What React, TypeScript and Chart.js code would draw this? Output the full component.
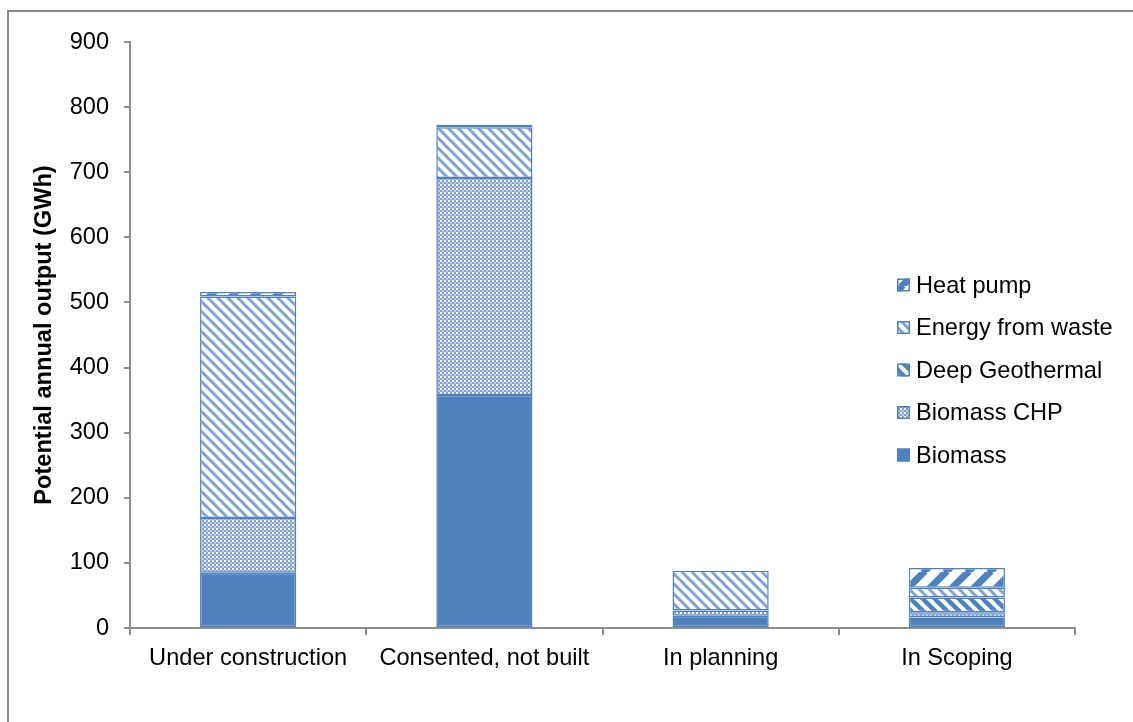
import { useEffect, useRef } from "react";
import { Chart, registerables } from "chart.js";

Chart.register(...registerables);

// Project pipeline by stage, potential annual output in GWh
const categories = ["Under construction", "Consented, not built", "In planning", "In Scoping"];
const seriesNames = ["Biomass", "Biomass CHP", "Deep Geothermal", "Energy from waste", "Heat pump"];
const biomass = [85, 358, 19, 16];
const biomassChp = [84, 333, 8, 8];
const deepGeothermal = [null, null, null, 23];
const energyFromWaste = [340, 78, 61, 15];
const heatPump = [7, 4, null, 30];
const yMin = 0;
const yMax = 900;
const yStep = 100;
const yTitle = "Potential annual output (GWh)";

const BLUE = "#4F81BD";
const AXIS = "#8d8d8d";
const FONT = "'Liberation Sans', Arial, sans-serif";
const FONT_SIZE = 23.6;

function tile(size: number, draw: (c: CanvasRenderingContext2D, s: number) => void): CanvasPattern | string {
  const cv = document.createElement("canvas");
  cv.width = size;
  cv.height = size;
  const c = cv.getContext("2d");
  if (!c) return BLUE;
  c.fillStyle = "#ffffff";
  c.fillRect(0, 0, size, size);
  draw(c, size);
  const p = c.createPattern(cv, "repeat");
  return p || BLUE;
}

// "\" stripes
function downDiagonal(size: number, width: number, color: string) {
  return tile(size, (c, s) => {
    c.strokeStyle = color;
    c.lineWidth = width;
    c.beginPath();
    for (let k = -1; k <= 1; k++) {
      c.moveTo(k * s - 1, -1);
      c.lineTo(k * s + s + 1, s + 1);
    }
    c.stroke();
  });
}

// "/" stripes
function upDiagonal(size: number, width: number, color: string) {
  return tile(size, (c, s) => {
    c.strokeStyle = color;
    c.lineWidth = width;
    c.beginPath();
    for (let k = -1; k <= 1; k++) {
      c.moveTo(k * s - 1, s + 1);
      c.lineTo(k * s + s + 1, -1);
    }
    c.stroke();
  });
}

function dotted() {
  return tile(4, (c) => {
    c.fillStyle = "#7f9fd0";
    c.fillRect(0, 0, 4, 4);
    c.fillStyle = "#ffffff";
    c.fillRect(0, 0, 2, 2);
    c.fillStyle = "#bccde7";
    c.fillRect(2, 2, 2, 2);
  });
}

const overlayLegend = {
  id: "overlayLegend",
  afterDraw(chart: any) {
    const ctx: CanvasRenderingContext2D = chart.ctx;
    const datasets = chart.data.datasets.slice().reverse();
    const boxX = 897;
    const box = 13;
    const textX = 916;
    const firstY = 285;
    const rowGap = 42.5;
    ctx.save();
    ctx.font = `${FONT_SIZE}px ${FONT}`;
    ctx.textBaseline = "middle";
    ctx.textAlign = "left";
    datasets.forEach((ds: any, i: number) => {
      const cy = firstY + i * rowGap;
      ctx.fillStyle = ds.backgroundColor;
      ctx.fillRect(boxX, cy - box / 2, box, box);
      ctx.strokeStyle = BLUE;
      ctx.lineWidth = 1.5;
      ctx.strokeRect(boxX + 0.75, cy - box / 2 + 0.75, box - 1.5, box - 1.5);
      ctx.fillStyle = "#000000";
      ctx.fillText(ds.label, textX, cy + 1);
    });
    ctx.restore();
  },
};

const frame = {
  id: "frame",
  beforeDraw(chart: any) {
    const ctx: CanvasRenderingContext2D = chart.ctx;
    ctx.save();
    ctx.fillStyle = "#ffffff";
    ctx.fillRect(0, 0, chart.width, chart.height);
    ctx.fillStyle = "#8a8a8a";
    ctx.fillRect(7, 10, 2, chart.height - 10);
    ctx.fillRect(7, 10, chart.width - 7, 2);
    ctx.restore();
  },
};

export default function App() {
  const ref = useRef<HTMLCanvasElement | null>(null);

  useEffect(() => {
    if (!ref.current) return;
    const fills = [
      BLUE,
      dotted(),
      downDiagonal(12, 4.5, BLUE),
      downDiagonal(10, 3, "#7fa2d0"),
      upDiagonal(22, 7, BLUE),
    ];
    const values = [biomass, biomassChp, deepGeothermal, energyFromWaste, heatPump];
    const chart = new Chart(ref.current, {
      type: "bar",
      data: {
        labels: categories,
        datasets: seriesNames.map((name, i) => ({
          label: name,
          data: values[i] as any,
          backgroundColor: fills[i] as any,
          borderColor: BLUE,
          borderWidth: 1.5,
          borderSkipped: false,
          barPercentage: 0.407,
          categoryPercentage: 1,
        })),
      },
      options: {
        responsive: false,
        animation: false,
        events: [],
        layout: { padding: { left: 8, top: 42, right: 58, bottom: 0 } },
        plugins: {
          legend: { display: false },
          title: { display: false },
          tooltip: { enabled: false },
        },
        scales: {
          x: {
            stacked: true,
            afterFit: (s: any) => {
              s.height = 94;
            },
            grid: {
              display: true,
              drawOnChartArea: false,
              drawTicks: true,
              tickLength: 7,
              color: AXIS,
              lineWidth: 2,
            },
            border: { display: true, color: AXIS, width: 2 },
            ticks: {
              color: "#000000",
              font: { family: FONT, size: FONT_SIZE },
              padding: 9,
              maxRotation: 0,
            },
          },
          y: {
            stacked: true,
            min: yMin,
            max: yMax,
            afterFit: (s: any) => {
              s.width = 122;
            },
            grid: {
              display: true,
              drawOnChartArea: false,
              drawTicks: true,
              tickLength: 6,
              color: AXIS,
              lineWidth: 2,
            },
            border: { display: true, color: AXIS, width: 2 },
            ticks: {
              stepSize: yStep,
              color: "#000000",
              font: { family: FONT, size: FONT_SIZE },
              padding: 15,
            },
            title: {
              display: true,
              text: yTitle,
              color: "#000000",
              font: { family: FONT, size: FONT_SIZE, weight: "bold" },
              padding: { top: 22, bottom: 0 },
            },
          },
        },
      },
      plugins: [frame, overlayLegend],
    });
    return () => chart.destroy();
  }, []);

  return (
    <canvas
      ref={ref}
      width={1133}
      height={722}
      style={{ position: "absolute", left: 0, top: 0, width: 1133, height: 722, display: "block" }}
    />
  );
}
